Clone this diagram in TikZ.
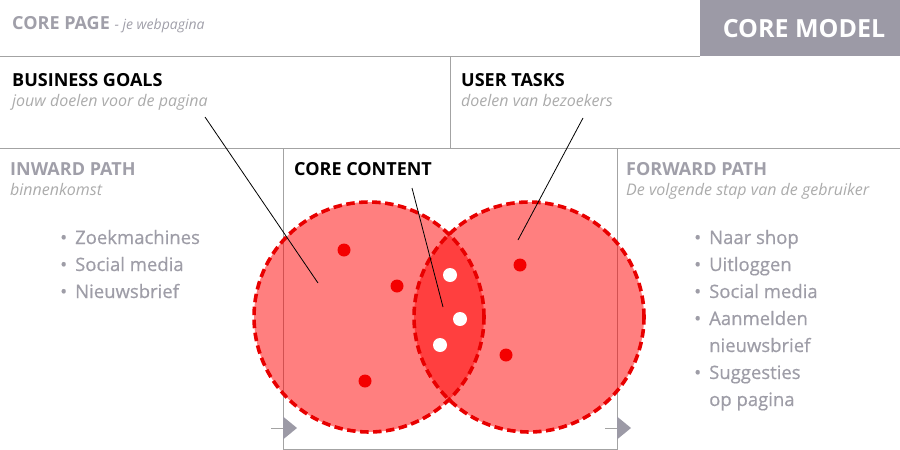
\documentclass[tikz,border=0pt]{standalone}
\usepackage{fontspec}
\setmainfont{Open Sans}
\definecolor{headgray}{HTML}{A09FA9}
\definecolor{subgray}{HTML}{ABABAB}
\definecolor{itemgray}{HTML}{9E9DA7}
\definecolor{framegray}{HTML}{A3A3A3}
\definecolor{modelgray}{HTML}{9C9AA6}
\definecolor{dashred}{HTML}{E80000}
\definecolor{dotred}{HTML}{F40000}
\begin{document}
\begin{tikzpicture}[x=1pt,y=-1pt,
  frame/.style={draw=framegray, line width=1pt},
  head/.style={anchor=base west, inner sep=0pt, font=\bfseries\fontsize{18}{20}\selectfont},
  subtxt/.style={anchor=base west, inner sep=0pt, text=subgray, font=\itshape\fontsize{16}{18}\selectfont},
  itemtxt/.style={anchor=base west, inner sep=0pt, text=itemgray, font=\fontsize{18.5}{20}\selectfont\addfontfeatures{FakeBold=0.6}},
  venn/.style={circle, minimum size=230pt, inner sep=0pt},
  vennfill/.style={venn, fill=red, fill opacity=0.5},
  vennline/.style={venn, draw=dashred, line width=3.6pt, dash pattern=on 8.5pt off 4.5pt},
  reddot/.style={circle, fill=dotred, minimum size=13pt, inner sep=0pt},
  whitedot/.style={circle, fill=white, minimum size=14pt, inner sep=0pt},
  pointer/.style={draw=black, line width=0.8pt},
  tri/.style={fill=modelgray},
]
\useasboundingbox (0,0) rectangle (900,450);

% frames
\draw[frame] (0,56) -- (700,56);
\draw[frame] (0,148) -- (900,148);
\draw[frame] (450,56) -- (450,148);
\draw[frame] (283,148) -- (283,449) -- (617,449) -- (617,148);
\fill[modelgray] (700,0) rectangle (900,56);

% header texts
\node[anchor=base west, inner sep=0pt, text=headgray, font=\bfseries\fontsize{18}{20}\selectfont] (corepage) at (12,29)
  {CORE PAGE {\mdseries\itshape\fontsize{14}{16}\selectfont - je webpagina}};
\node[anchor=base, inner sep=0pt, text=white, font=\bfseries\fontsize{25}{28}\selectfont] (coremodel) at (804,37) {CORE MODEL};

\node[head] (bg) at (12,86) {BUSINESS GOALS};
\node[subtxt] (bgsub) at (12,106) {jouw doelen voor de pagina};
\node[head] (ut) at (461,86) {USER TASKS};
\node[subtxt] (utsub) at (461,106) {doelen van bezoekers};

\node[head, text=headgray] (ip) at (10,175) {INWARD PATH};
\node[subtxt] (ipsub) at (10,195) {binnenkomst};
\node[head] (cc) at (294,175) {CORE CONTENT};
\node[head, text=headgray] (fp) at (626,175) {FORWARD PATH};
\node[subtxt] (fpsub) at (626,195) {De volgende stap van de gebruiker};

% lists
\node[itemtxt] (l1) at (60,244) {\makebox[15pt][l]{•}Zoekmachines};
\node[itemtxt] (l2) at (60,271) {\makebox[15pt][l]{•}Social media};
\node[itemtxt] (l3) at (60,298) {\makebox[15pt][l]{•}Nieuwsbrief};

\node[itemtxt] (r1) at (694,244) {\makebox[15pt][l]{•}Naar shop};
\node[itemtxt] (r2) at (694,271) {\makebox[15pt][l]{•}Uitloggen};
\node[itemtxt] (r3) at (694,298) {\makebox[15pt][l]{•}Social media};
\node[itemtxt] (r4) at (694,325) {\makebox[15pt][l]{•}Aanmelden};
\node[itemtxt] (r4b) at (709,352) {nieuwsbrief};
\node[itemtxt] (r5) at (694,379) {\makebox[15pt][l]{•}Suggesties};
\node[itemtxt] (r5b) at (709,406) {op pagina};

% arrows in/out
\coordinate (inA) at (271,428);
\coordinate (inB) at (283,428);
\coordinate (outA) at (605,428);
\coordinate (outB) at (617,428);
\draw[frame] (inA) -- (inB);
\draw[frame] (outA) -- (outB);
\fill[tri] (283,416.5) -- (297,428) -- (283,439.5) -- cycle;
\fill[tri] (617,416.5) -- (631,428) -- (617,439.5) -- cycle;

% venn
\node[vennfill] (left) at (369,317) {};
\node[vennfill] (right) at (529,317) {};
\node[vennline] at (left.center) {};
\node[vennline] at (right.center) {};

% dots
\node[reddot] (d1) at (344,250) {};
\node[reddot] (d2) at (397,286) {};
\node[reddot] (d3) at (365,381) {};
\node[reddot] (d4) at (520,265) {};
\node[reddot] (d5) at (506,355) {};
\node[whitedot] (w1) at (450,275) {};
\node[whitedot] (w2) at (460,319) {};
\node[whitedot] (w3) at (440,345) {};

% pointers
\coordinate (bgA) at (205,117);
\coordinate (bgB) at (318,283);
\coordinate (utA) at (583,118);
\coordinate (utB) at (518,240);
\coordinate (ccA) at (412,188);
\coordinate (ccB) at (443,307);
\draw[pointer] (bgA) -- (bgB);
\draw[pointer] (utA) -- (utB);
\draw[pointer] (ccA) -- (ccB);
\end{tikzpicture}
\end{document}
